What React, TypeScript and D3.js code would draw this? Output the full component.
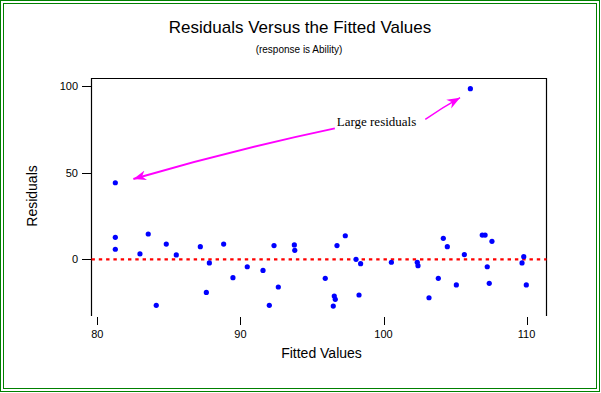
import * as d3 from 'd3';

// fitted value, residual
const fitted = [
  81.26, 81.26, 81.26, 82.98, 83.56, 84.12, 84.82, 85.52, 87.2, 87.62,
  87.83, 88.83, 89.48, 90.48, 91.58, 92.02, 92.35, 92.65, 93.77, 93.8,
  95.93, 96.49, 96.56, 96.63, 96.75, 97.33, 98.08, 98.29, 98.4, 100.55,
  102.36, 102.41, 103.18, 103.83, 104.18, 104.46, 105.09, 105.65, 106.07, 106.9,
  107.1, 107.25, 107.39, 107.58, 109.68, 109.8, 109.98,
];
const residuals = [
  44.2, 12.7, 5.8, 3.1, 14.6, -26.6, 8.8, 2.5, 7.3, -19.1,
  -2.1, 8.8, -10.6, -4.3, -6.4, -26.6, 7.9, -16, 8.3, 5.2,
  -11, -27, -21.2, -23.1, 7.9, 13.6, 0, -20.6, -2.5, -1.7,
  -1.7, -3.7, -22.2, -11, 12.1, 7.3, -14.8, 2.7, 98.5, 14,
  14, -4.3, -13.9, 10.4, -2.1, 1.5, -14.8,
];

const xTicks = [80, 90, 100, 110];
const yTicks = [0, 50, 100];

// annotation, in data units
const noteLabel = 'Large residuals';
const noteAt = [96.73, 77.1];
const arrowFrom = [[96.6, 75.6], [102.92, 80.8]];
const arrowTo = [[82.52, 46.4], [105.35, 93.3]];

const W = 601;
const H = 393;
const left = 91.5;
const right = 546.5;
const top = 78.5;
const bottom = 316;

export default function App() {
  const x = d3.scaleLinear().domain([80, 110]).range([97.3, 526.6]);
  const y = d3.scaleLinear().domain([0, 50]).range([259.3, 172.7]);
  const sans = 'Arial, "Liberation Sans", Helvetica, sans-serif';

  const arrowPath = (i: number) => {
    const [x0, y0] = [x(arrowFrom[i][0]), y(arrowFrom[i][1])];
    const [x1, y1] = [x(arrowTo[i][0]), y(arrowTo[i][1])];
    // slight upward bow, as in the original
    const mx = (x0 + x1) / 2;
    const my = (y0 + y1) / 2 - (i === 0 ? 4 : 1);
    const p = d3.path();
    p.moveTo(x0, y0);
    p.quadraticCurveTo(mx, my, x1, y1);
    return p.toString();
  };

  return (
    <svg width={W} height={H} style={{ position: 'absolute', left: 0, top: 0, background: '#fff' }}>
      <defs>
        <marker id="head" markerUnits="userSpaceOnUse" markerWidth="16" markerHeight="12"
          refX="13" refY="5" orient="auto" viewBox="0 0 16 10">
          <path d="M0,0 L13,5 L0,10 L4,5 Z" fill="#ff00ff" />
        </marker>
      </defs>
      <rect x={0.5} y={0.5} width={W - 2} height={H - 2} fill="none" stroke="#008000" />
      <rect x={3.5} y={3.5} width={W - 8} height={H - 8} fill="none" stroke="#008000" />

      <text x={300} y={33} textAnchor="middle" fontFamily={sans} fontSize={17}>
        Residuals Versus the Fitted Values
      </text>
      <text x={299} y={53} textAnchor="middle" fontFamily={sans} fontSize={10}>
        (response is Ability)
      </text>

      {/* frame: open at the bottom */}
      <path d={`M${left},${bottom}V${top}H${right}V${bottom}`} fill="none" stroke="#000" strokeWidth={1.2} />

      {yTicks.map((t) => (
        <g key={t}>
          <line x1={82} x2={left} y1={Math.round(y(t)) + 0.5} y2={Math.round(y(t)) + 0.5} stroke="#000" />
          <text x={78} y={y(t)} dy="0.35em" textAnchor="end" fontFamily={sans} fontSize={11}>{t}</text>
        </g>
      ))}
      {xTicks.map((t) => (
        <g key={t}>
          <line x1={Math.round(x(t)) + 0.5} x2={Math.round(x(t)) + 0.5} y1={317} y2={325} stroke="#000" />
          <text x={x(t)} y={338} textAnchor="middle" fontFamily={sans} fontSize={11}>{t}</text>
        </g>
      ))}

      <text x={321.5} y={358} textAnchor="middle" fontFamily={sans} fontSize={14}>Fitted Values</text>
      <text transform={`translate(37,196) rotate(-90)`} textAnchor="middle" fontFamily={sans} fontSize={14}>
        Residuals
      </text>

      <line x1={left} x2={right} y1={y(0)} y2={y(0)} stroke="#ff0000" strokeWidth={2.2} strokeDasharray="3.4 3.9" />

      {fitted.map((f, i) => (
        <circle key={i} cx={x(f)} cy={y(residuals[i])} r={2.6} fill="#0000ff" />
      ))}

      <text x={x(noteAt[0])} y={y(noteAt[1])} fontFamily='"Liberation Serif", "Times New Roman", serif' fontSize={13}>
        {noteLabel}
      </text>
      {arrowFrom.map((_, i) => (
        <path key={i} d={arrowPath(i)} fill="none" stroke="#ff00ff" strokeWidth={i === 0 ? 2 : 1.5}
          markerEnd="url(#head)" />
      ))}
    </svg>
  );
}
